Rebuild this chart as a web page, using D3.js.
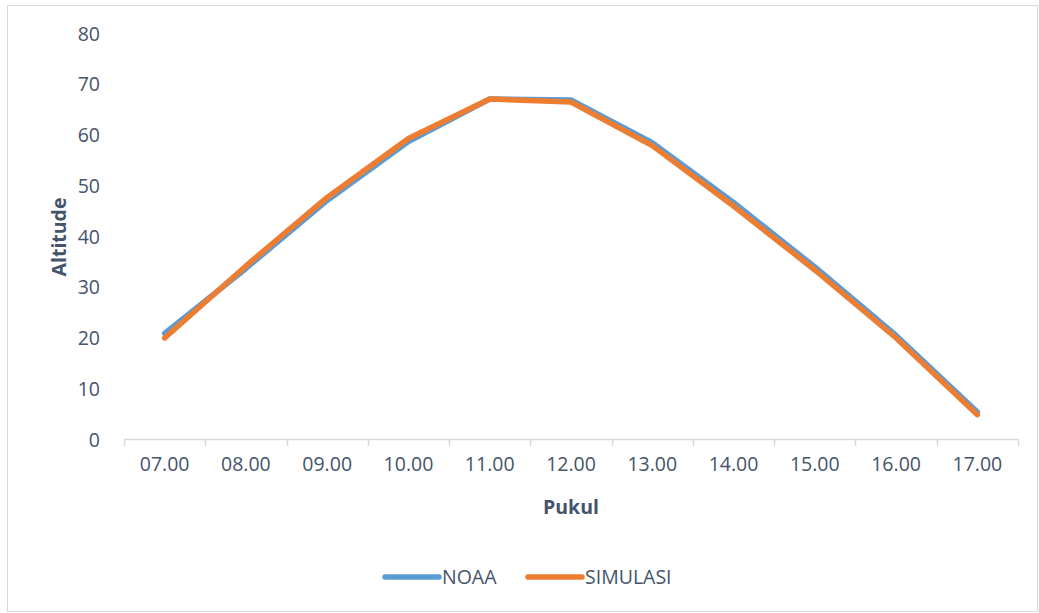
<!DOCTYPE html>
<html>
<head>
<meta charset="utf-8">
<script src="https://cdn.jsdelivr.net/npm/d3@7"></script>
<style>
  html, body { margin: 0; padding: 0; background: #fff; }
  svg { display: block; font-family: "Open Sans", "Lato", sans-serif; }
</style>
</head>
<body>
<svg id="chart" width="1039" height="613"></svg>
<script>
// Hours of the day (x categories)
const hours = ["07.00", "08.00", "09.00", "10.00", "11.00", "12.00", "13.00", "14.00", "15.00", "16.00", "17.00"];
// Sun altitude in degrees
const noaa     = [20.8, 33.6, 47.0, 58.6, 67.0, 66.8, 58.4, 46.6, 33.9, 20.4, 5.3];
const simulasi = [19.9, 34.1, 47.6, 59.2, 67.0, 66.4, 57.8, 45.9, 33.3, 19.9, 4.8];
const yTicks   = [0, 10, 20, 30, 40, 50, 60, 70, 80];

const seriesNames  = ["NOAA", "SIMULASI"];
const seriesColors = ["#5B9BD5", "#ED7D31"];
const seriesData   = [noaa, simulasi];

const svg = d3.select("#chart");
const textColor = "#44546A";
const fontSize = 19.5;

// chart frame
svg.append("rect")
  .attr("x", 7.5).attr("y", 5.5)
  .attr("width", 1030).attr("height", 606)
  .attr("fill", "#fff").attr("stroke", "#D9D9D9").attr("stroke-width", 1);

const plot = { left: 124, right: 1018, top: 33, bottom: 439 };

const x = d3.scaleBand().domain(hours).range([plot.left, plot.right]).padding(0);
const y = d3.scaleLinear().domain([0, 80]).range([plot.bottom, plot.top]);

// y tick labels (no axis line)
const yAxis = d3.axisLeft(y).tickValues(yTicks).tickSize(0).tickPadding(0);
const gy = svg.append("g").attr("transform", `translate(${plot.left - 24},0)`).call(yAxis);
gy.select(".domain").remove();
gy.selectAll("text").attr("fill", textColor).attr("font-size", fontSize)
  .attr("font-family", "Open Sans, sans-serif").attr("dy", "0.36em");

// x axis with boundary ticks
const gx = svg.append("g").attr("transform", `translate(0,${plot.bottom})`);
gx.append("line")
  .attr("x1", plot.left).attr("x2", plot.right)
  .attr("y1", 0.5).attr("y2", 0.5)
  .attr("stroke", "#D9D9D9").attr("stroke-width", 1.5);
const bounds = hours.map(h => x(h)).concat([x(hours[hours.length - 1]) + x.bandwidth()]);
gx.selectAll("line.tick").data(bounds).join("line")
  .attr("class", "tick")
  .attr("x1", d => Math.round(d) + 0.5).attr("x2", d => Math.round(d) + 0.5)
  .attr("y1", 0).attr("y2", 7)
  .attr("stroke", "#D9D9D9").attr("stroke-width", 1.5);
gx.selectAll("text").data(hours).join("text")
  .attr("x", d => x(d) + x.bandwidth() / 2)
  .attr("y", 32)
  .attr("text-anchor", "middle")
  .attr("fill", textColor).attr("font-size", fontSize)
  .text(d => d);

// axis titles
svg.append("text")
  .attr("transform", `translate(66,${(plot.top + plot.bottom) / 2 + 1}) rotate(-90)`)
  .attr("text-anchor", "middle")
  .attr("fill", textColor).attr("font-size", fontSize).attr("font-weight", "bold")
  .text("Altitude");
svg.append("text")
  .attr("x", (plot.left + plot.right) / 2).attr("y", 514)
  .attr("text-anchor", "middle")
  .attr("fill", textColor).attr("font-size", fontSize).attr("font-weight", "bold")
  .text("Pukul");

// series lines
const line = d3.line()
  .x((d, i) => x(hours[i]) + x.bandwidth() / 2)
  .y(d => y(d));

seriesData.forEach((vals, k) => {
  svg.append("path")
    .datum(vals)
    .attr("d", line)
    .attr("fill", "none")
    .attr("stroke", seriesColors[k])
    .attr("stroke-width", 5.5)
    .attr("stroke-linecap", "round")
    .attr("stroke-linejoin", "round");
});

// legend
const legendItems = [{ x: 383 }, { x: 526 }];
seriesNames.forEach((name, k) => {
  const g = svg.append("g").attr("transform", `translate(${legendItems[k].x},577)`);
  g.append("line")
    .attr("x1", 2).attr("x2", 56).attr("y1", 0).attr("y2", 0)
    .attr("stroke", seriesColors[k]).attr("stroke-width", 5.5)
    .attr("stroke-linecap", "round");
  g.append("text")
    .attr("x", 59).attr("y", 0).attr("dy", "0.36em")
    .attr("fill", textColor).attr("font-size", fontSize)
    .text(name);
});
</script>
</body>
</html>
